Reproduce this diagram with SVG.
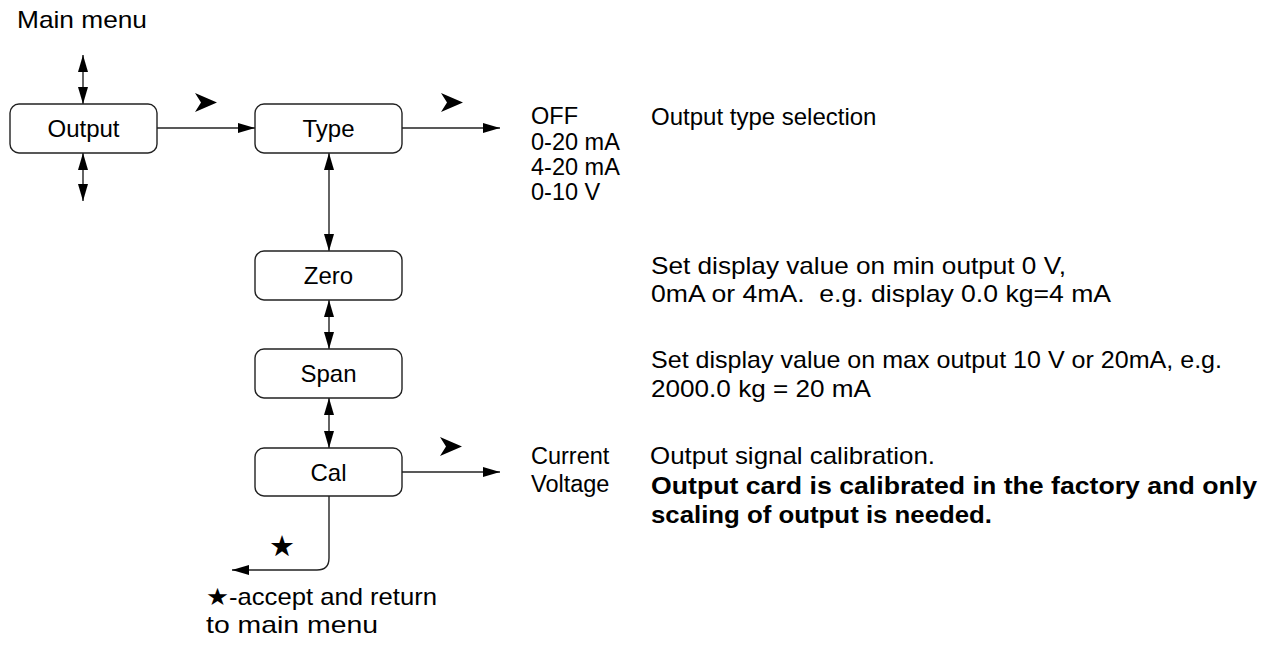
<svg xmlns="http://www.w3.org/2000/svg" width="1264" height="662" viewBox="0 0 1264 662">
<style>
  text { font-family: "Liberation Sans", Arial, "DejaVu Sans", sans-serif; fill: #000; }
  .lbl { font-size: 24px; text-anchor: middle; }
  .t { font-size: 24px; }
  .s { font-size: 23.5px; }
  .b { font-size: 24px; font-weight: bold; }
  .box { fill: #fff; stroke: #222; stroke-width: 1.4; }
  .ln { fill: none; stroke: #222; stroke-width: 1.4; }
  .sym { fill: #000; }
</style>
<defs>
  <marker id="ah" viewBox="0 0 17 10" refX="17" refY="5" markerWidth="17" markerHeight="10" markerUnits="userSpaceOnUse" orient="auto-start-reverse">
    <path d="M0,0 L17,5 L0,10 Z" fill="#000"/>
  </marker>
</defs>
<text class="t" x="17" y="28" textLength="130" lengthAdjust="spacingAndGlyphs">Main menu</text>

<g id="connectors">
  <line class="ln" x1="83" y1="55" x2="83" y2="104" marker-start="url(#ah)" marker-end="url(#ah)"/>
  <line class="ln" x1="83" y1="153" x2="83" y2="201" marker-start="url(#ah)" marker-end="url(#ah)"/>
  <line class="ln" x1="157" y1="128" x2="255" y2="128" marker-end="url(#ah)"/>
  <line class="ln" x1="402" y1="128" x2="500" y2="128" marker-end="url(#ah)"/>
  <line class="ln" x1="329" y1="153" x2="329" y2="251" marker-start="url(#ah)" marker-end="url(#ah)"/>
  <line class="ln" x1="329" y1="300" x2="329" y2="349" marker-start="url(#ah)" marker-end="url(#ah)"/>
  <line class="ln" x1="329" y1="398" x2="329" y2="448" marker-start="url(#ah)" marker-end="url(#ah)"/>
  <line class="ln" x1="402" y1="472" x2="500" y2="472" marker-end="url(#ah)"/>
  <path class="ln" d="M329,496 L329,558 Q329,570 317,570 L232,570" marker-end="url(#ah)"/>
  <polygon class="sym" points="195,93 217,102.5 195,112 201,102.5"/>
  <polygon class="sym" points="441,93 463,102.5 441,112 447,102.5"/>
  <polygon class="sym" points="440,437 462,446.5 440,456 446,446.5"/>
  <text x="282" y="556" font-size="29" text-anchor="middle" style="font-family:'DejaVu Sans',sans-serif">★</text>
</g>

<g id="node-output">
  <rect class="box" x="10" y="104" width="147" height="49" rx="9"/>
  <text class="lbl" x="83.5" y="137">Output</text>
</g>
<g id="node-type">
  <rect class="box" x="255" y="104" width="147" height="49" rx="9"/>
  <text class="lbl" x="328.5" y="137">Type</text>
</g>
<g id="node-zero">
  <rect class="box" x="255" y="251" width="147" height="49" rx="9"/>
  <text class="lbl" x="328.5" y="284">Zero</text>
</g>
<g id="node-span">
  <rect class="box" x="255" y="349" width="147" height="49" rx="9"/>
  <text class="lbl" x="328.5" y="382">Span</text>
</g>
<g id="node-cal">
  <rect class="box" x="255" y="448" width="147" height="48" rx="9"/>
  <text class="lbl" x="328.5" y="481">Cal</text>
</g>

<g id="type-options">
  <text class="s" x="531" y="124">OFF</text>
  <text class="s" x="531" y="150">0-20 mA</text>
  <text class="s" x="531" y="175">4-20 mA</text>
  <text class="s" x="531" y="200">0-10 V</text>
</g>
<g id="cal-options">
  <text class="s" x="531" y="464">Current</text>
  <text class="s" x="531" y="492">Voltage</text>
</g>

<g id="descriptions">
  <text class="t" x="651" y="125">Output type selection</text>
  <text class="t" x="651" y="274" textLength="415" lengthAdjust="spacingAndGlyphs">Set display value on min output 0 V,</text>
  <text class="t" x="651" y="302" textLength="460" lengthAdjust="spacingAndGlyphs" style="white-space:pre">0mA or 4mA.  e.g. display 0.0 kg=4 mA</text>
  <text class="t" x="651" y="368" textLength="571" lengthAdjust="spacingAndGlyphs">Set display value on max output 10 V or 20mA, e.g.</text>
  <text class="t" x="651" y="397" textLength="220" lengthAdjust="spacingAndGlyphs">2000.0 kg = 20 mA</text>
  <text class="t" x="650" y="464" textLength="285" lengthAdjust="spacingAndGlyphs">Output signal calibration.</text>
  <text class="b" x="651" y="494" textLength="606" lengthAdjust="spacingAndGlyphs">Output card is calibrated in the factory and only</text>
  <text class="b" x="651" y="523" textLength="341" lengthAdjust="spacingAndGlyphs">scaling of output is needed.</text>
</g>

<g id="footnote">
  <text class="t" x="206" y="605" textLength="231" lengthAdjust="spacingAndGlyphs">★-accept and return</text>
  <text class="t" x="206" y="633" textLength="172" lengthAdjust="spacingAndGlyphs">to main menu</text>
</g>
</svg>
